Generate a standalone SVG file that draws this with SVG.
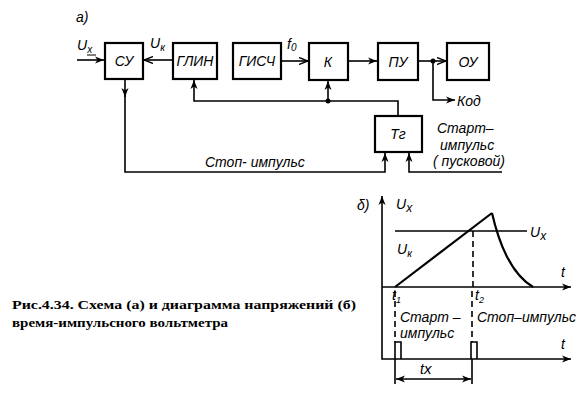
<svg xmlns="http://www.w3.org/2000/svg" width="577" height="403" viewBox="0 0 577 403">
<defs>
<style>
.box{fill:#fff;stroke:#000;stroke-width:2.2}
.ln{fill:none;stroke:#000;stroke-width:1.6}
.th{fill:none;stroke:#000;stroke-width:2.2}
.dash{fill:none;stroke:#000;stroke-width:1.6;stroke-dasharray:6 4}
.lbl{font-family:"Liberation Sans",Arial,sans-serif;font-style:italic;font-size:14px;fill:#000}
.bl{font-family:"Liberation Sans",Arial,sans-serif;font-style:italic;font-size:14px;fill:#000;text-anchor:middle}
.cap{font-family:"Liberation Serif","Times New Roman",serif;font-weight:bold;font-size:12.5px;fill:#000}
</style>
<marker id="ar" markerWidth="10" markerHeight="8" refX="9" refY="4" orient="auto" markerUnits="userSpaceOnUse">
<path d="M0,0.5 L9,4 L0,7.5 L2.5,4 Z" fill="#000"/>
</marker>
<marker id="ao" markerWidth="10" markerHeight="8" refX="9" refY="4" orient="auto" markerUnits="userSpaceOnUse">
<path d="M0,0.5 L9,4 L0,7.5" fill="none" stroke="#000" stroke-width="1.4"/>
</marker>
<marker id="ar2" markerWidth="10" markerHeight="8" refX="1" refY="4" orient="auto" markerUnits="userSpaceOnUse">
<path d="M10,0.5 L1,4 L10,7.5 L7.5,4 Z" fill="#000"/>
</marker>
</defs>
<rect width="577" height="403" fill="#fff"/>

<text class="lbl" x="76" y="22" font-size="15">а)</text>

<g id="su"><rect class="box" x="105" y="43" width="38" height="36"/><text class="bl" x="124" y="66">СУ</text></g>
<g id="glin"><rect class="box" x="173" y="43" width="44" height="36"/><text class="bl" x="195" y="66">ГЛИН</text></g>
<g id="gisch"><rect class="box" x="233" y="43" width="48" height="36"/><text class="bl" x="257" y="66">ГИСЧ</text></g>
<g id="k"><rect class="box" x="309" y="43" width="39" height="37"/><text class="bl" x="328" y="67">К</text></g>
<g id="pu"><rect class="box" x="378" y="43" width="40" height="37"/><text class="bl" x="398" y="67">ПУ</text></g>
<g id="ou"><rect class="box" x="447" y="43" width="42" height="37"/><text class="bl" x="468" y="67">ОУ</text></g>
<g id="tg"><rect class="box" x="375" y="116" width="47" height="36"/><text class="bl" x="398" y="139">Тг</text></g>

<g id="connectors">
<line class="ln" x1="77" y1="60" x2="104" y2="60" marker-end="url(#ar)"/>
<line class="ln" x1="173" y1="60" x2="144" y2="60" marker-end="url(#ao)"/>
<line class="ln" x1="281" y1="61" x2="308" y2="61" marker-end="url(#ao)"/>
<line class="ln" x1="348" y1="61" x2="377" y2="61" marker-end="url(#ar)"/>
<line class="ln" x1="418" y1="61" x2="446" y2="61" marker-end="url(#ao)"/>
<circle cx="433" cy="61" r="2.5" fill="#000"/>
<polyline class="ln" points="433,61 433,100 455,100" marker-end="url(#ar)"/>
<line class="ln" x1="125" y1="79" x2="125" y2="97" marker-end="url(#ar)"/>
<polyline class="ln" points="125,95 125,172 385,172 385,153" marker-end="url(#ar)"/>
<polyline class="ln" points="502,172 409,172 409,153" marker-end="url(#ar)"/>
<polyline class="ln" points="398,116 398,101 194,101 194,80" marker-end="url(#ar)"/>
<line class="ln" x1="328" y1="101" x2="328" y2="81" marker-end="url(#ar)"/>
<circle cx="328" cy="101" r="2.5" fill="#000"/>
</g>

<text class="lbl" x="77" y="50" font-size="15">U<tspan font-size="10" dy="3">x</tspan></text>
<line x1="87" y1="55" x2="96" y2="55" stroke="#000" stroke-width="1"/>
<text class="lbl" x="150" y="48" font-size="15">U<tspan font-size="10" dy="3">к</tspan></text>
<text class="lbl" x="287" y="49" font-size="15">f<tspan font-size="10" dy="2">0</tspan></text>
<text class="lbl" x="457" y="106" font-size="15">Код</text>
<text class="lbl" x="205" y="167" font-size="15.5">Стоп- импульс</text>
<text class="lbl" x="437" y="133" font-size="14.5">Старт–</text>
<text class="lbl" x="440" y="150" font-size="14.5">импульс</text>
<text class="lbl" x="433" y="166" font-size="14.5">( пусковой)</text>

<text class="lbl" x="357" y="210" font-size="15">δ)</text>
<text class="lbl" x="396" y="209" font-size="16">U<tspan font-size="12" dy="3">x</tspan></text>
<text class="lbl" x="397" y="254" font-size="15">U<tspan font-size="10" dy="3">к</tspan></text>
<text class="lbl" x="530" y="237" font-size="15">U<tspan font-size="12" dy="3">x</tspan></text>
<text class="lbl" x="561" y="277" font-size="16">t</text>
<text class="lbl" x="561" y="349" font-size="16">t</text>
<text class="lbl" x="392" y="300">t<tspan font-size="9" dy="3">1</tspan></text>
<text class="lbl" x="475" y="300">t<tspan font-size="9" dy="3">2</tspan></text>
<text class="lbl" x="400" y="322">Старт –</text>
<text class="lbl" x="400" y="338">импульс</text>
<text class="lbl" x="477" y="322">Стоп–импульс</text>
<text class="lbl" x="420" y="374" font-size="16">t<tspan font-size="15">x</tspan></text>

<g id="graph">
<line class="ln" x1="382" y1="287" x2="382" y2="196" marker-end="url(#ar)"/>
<line class="ln" x1="382" y1="287" x2="571" y2="287" marker-end="url(#ar)"/>
<polyline class="ln" points="382,287 382,359 571,359" marker-end="url(#ar)"/>
<line class="ln" x1="395" y1="231" x2="527" y2="231"/>
<polyline class="th" points="395,287 492,213"/>
<path class="th" d="M492,213 Q505,270 533,287"/>
<line class="dash" x1="473" y1="231" x2="473" y2="287"/>
<line class="dash" x1="472" y1="291" x2="472" y2="342"/>
<line class="dash" x1="395" y1="291" x2="395" y2="342"/>
<polyline class="ln" points="395,359 395,342 401,342 401,359"/>
<polyline class="ln" points="471,359 471,342 477,342 477,359"/>
<line class="ln" x1="395" y1="359" x2="395" y2="384"/>
<line class="ln" x1="472" y1="359" x2="472" y2="384"/>
<line class="ln" x1="396" y1="379" x2="471" y2="379" marker-start="url(#ar2)" marker-end="url(#ar)"/>
</g>

<text class="cap" x="12" y="309" textLength="344" lengthAdjust="spacingAndGlyphs">Рис.4.34. Схема (а) и диаграмма напряжений (б)</text>
<text class="cap" x="12" y="327" textLength="216" lengthAdjust="spacingAndGlyphs">время-импульсного вольтметра</text>
</svg>
